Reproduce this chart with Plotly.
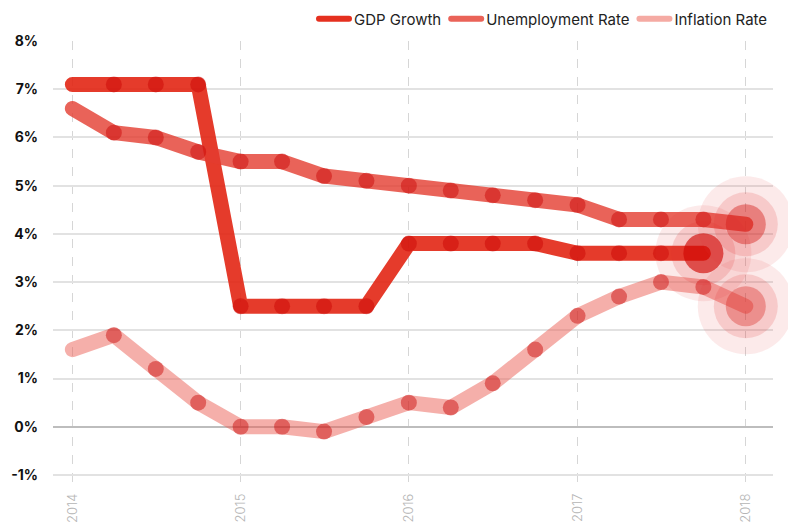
import plotly.graph_objects as go

quarters = ["2014-01-01", "2014-04-01", "2014-07-01", "2014-10-01",
            "2015-01-01", "2015-04-01", "2015-07-01", "2015-10-01",
            "2016-01-01", "2016-04-01", "2016-07-01", "2016-10-01",
            "2017-01-01", "2017-04-01", "2017-07-01", "2017-10-01",
            "2018-01-01"]

gdp_growth = [7.1, 7.1, 7.1, 7.1, 2.5, 2.5, 2.5, 2.5,
              3.8, 3.8, 3.8, 3.8, 3.6, 3.6, 3.6, 3.6]
unemployment = [6.6, 6.1, 6.0, 5.7, 5.5, 5.5, 5.2, 5.1,
                5.0, 4.9, 4.8, 4.7, 4.6, 4.3, 4.3, 4.3, 4.2]
inflation = [1.6, 1.9, 1.2, 0.5, 0.0, 0.0, -0.1, 0.2,
             0.5, 0.4, 0.9, 1.6, 2.3, 2.7, 3.0, 2.9, 2.5]

series_names = ["GDP Growth", "Unemployment Rate", "Inflation Rate"]
series_values = [gdp_growth, unemployment, inflation]
line_colors = ["rgba(226,38,20,0.9)", "rgba(228,60,48,0.8)", "rgba(236,95,85,0.5)"]
legend_colors = ["#e5301f", "#ea6358", "#f5aaa3"]
marker_color = "rgba(200,0,0,0.45)"
end_inner = ["rgba(208,5,0,0.9)", "rgba(212,25,20,0.6)", "rgba(215,35,30,0.5)"]

year_ticks = ["2014-01-01", "2015-01-01", "2016-01-01", "2017-01-01", "2018-01-01"]
year_labels = ["2014", "2015", "2016", "2017", "2018"]
y_ticks = [-1, 0, 1, 2, 3, 4, 5, 6, 7, 8]
y_labels = ["-1%", "0%", "1%", "2%", "3%", "4%", "5%", "6%", "7%", "8%"]

fig = go.Figure()

for name, vals, lc in zip(series_names, series_values, line_colors):
    xs = quarters[:len(vals)]
    fig.add_trace(go.Scatter(x=xs, y=vals, mode="lines", name=name,
                             line=dict(color=lc, width=15),
                             showlegend=False, hoverinfo="skip", cliponaxis=False))

for name, vals in zip(series_names, series_values):
    xs = quarters[:len(vals)]
    fig.add_trace(go.Scatter(x=xs[1:-1], y=vals[1:-1], mode="markers",
                             marker=dict(color=marker_color, size=16, line=dict(width=0)),
                             showlegend=False, hoverinfo="skip", cliponaxis=False))

for name, vals, ic in zip(series_names, series_values, end_inner):
    xs = quarters[:len(vals)]
    fig.add_trace(go.Scatter(x=[xs[-1]] * 3, y=[vals[-1]] * 3, mode="markers",
                             marker=dict(size=[96, 64, 40],
                                         color=["rgba(230,60,60,0.15)",
                                                "rgba(225,50,50,0.24)", ic],
                                         line=dict(width=0)),
                             showlegend=False, hoverinfo="skip", cliponaxis=False))

for name, lc in zip(series_names, legend_colors):
    fig.add_trace(go.Scatter(x=[None], y=[None], mode="lines", name=name,
                             line=dict(color=lc, width=6), showlegend=True))

fig.update_layout(
    width=788, height=526,
    margin=dict(l=53, r=15, t=41, b=38, autoexpand=False),
    paper_bgcolor="white", plot_bgcolor="white",
    font=dict(family="Inter", color="#222"),
    showlegend=True,
    legend=dict(orientation="h", x=1.0, xanchor="right",
                yref="container", y=0.964, yanchor="middle",
                font=dict(size=15, color="#222", family="Inter"),
                itemwidth=30, traceorder="normal"),
    hovermode=False,
)

fig.update_xaxes(
    type="date", range=["2013-11-20", "2018-03-01"],
    tickvals=year_ticks, ticktext=year_labels, tickangle=-90,
    tickfont=dict(size=13, color="#b5b5b5", family="Inter", weight=300),
    showgrid=True, gridcolor="#d6d6d6", griddash="dash", gridwidth=1,
    showline=False, zeroline=False, ticks="", automargin=False,
    ticklabelstandoff=2,
)
fig.update_yaxes(
    range=[-1.27, 8.001], tickvals=y_ticks, ticktext=y_labels,
    tickfont=dict(size=14, color="#111", family="Inter", weight="bold"),
    showgrid=True, gridcolor="#e2e2e2", gridwidth=1.5,
    zeroline=True, zerolinecolor="#bdbdbd", zerolinewidth=1.5,
    showline=False, ticks="", automargin=False, ticklabelstandoff=14,
)

post = ("document.body.style.margin='0';"
        "var s=document.createElement('style');"
        "s.innerHTML='.js-line{stroke-linecap:round !important;stroke-linejoin:round !important}';"
        "document.head.appendChild(s);")

fig.write_html("out.html", post_script=post, config={"displayModeBar": False})
